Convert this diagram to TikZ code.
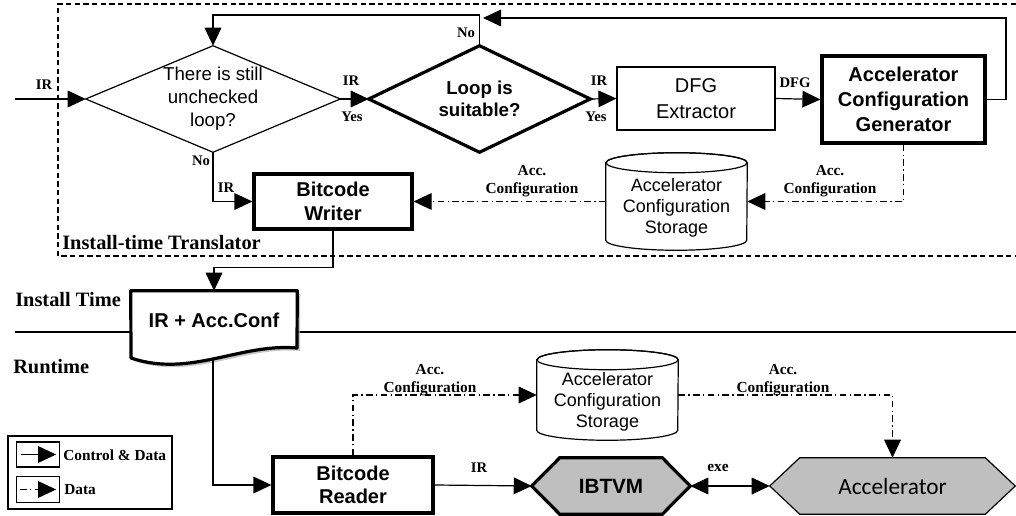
\documentclass[tikz,border=0pt]{standalone}
\usepackage{fontspec}
\setmainfont{Liberation Serif}
\newfontfamily\sansf{Liberation Sans}
\newfontfamily\calf{Carlito}
\usetikzlibrary{arrows.meta,calc,backgrounds}

\begin{document}
\begin{tikzpicture}[x=0.75pt,y=-0.75pt,
  thinline/.style={line width=0.9pt},
  thickline/.style={line width=2.4pt},
  tip/.style={Triangle[length=13.5pt,width=12.5pt]},
  flow/.style={line width=0.9pt,-{Triangle[length=13.5pt,width=12.5pt]}},
  dataflow/.style={flow,dash pattern=on 5pt off 2.5pt on 1pt off 2.5pt},
  area/.style 2 args={minimum width={(#1)*0.75pt},minimum height={(#2)*0.75pt},inner sep=0pt,align=center},
  lbl/.style={font=\bfseries\fontsize{11}{12}\selectfont,inner sep=0pt,align=center},
  acclbl/.style={font=\bfseries\fontsize{11.5}{13}\selectfont,inner sep=0pt,align=center},
  title/.style={font=\bfseries\fontsize{15.3}{17}\selectfont,inner sep=0pt,anchor=west},
  plainbox/.style={draw,thinline,fill=white},
  boldbox/.style={draw,thickline,fill=white},
  hexfill/.style={fill=black!25,draw},
]
\useasboundingbox (0,0) rectangle (1016,516);

% ---------------- nodes ----------------
\node[area={254}{106},font=\sansf\fontsize{14}{17.25}\selectfont] (d1) at (213,99)
  {There is still\\unchecked\\loop?};
\node[area={221}{106},font=\sansf\bfseries\fontsize{14}{16.5}\selectfont] (d2) at (479.5,99)
  {Loop is\\suitable?};
\node[area={158}{63},plainbox,font=\sansf\fontsize{15}{19.5}\selectfont] (dfg) at (696,98.5)
  {DFG\\Extractor};
\node[area={163}{87},boldbox,font=\sansf\bfseries\fontsize{15}{18.75}\selectfont] (acg) at (903.5,99.5)
  {Accelerator\\Configuration\\Generator};
\node[area={158}{55},boldbox,font=\sansf\bfseries\fontsize{15}{17.5}\selectfont] (bw) at (333,201.5)
  {Bitcode\\Writer};
\node[area={141}{97}] (st1) at (676.5,201.5) {};
\node[area={166}{58},font=\sansf\bfseries\fontsize{15}{18}\selectfont] (doc) at (214,320)
  {IR + Acc.Conf};
\coordinate (docbot) at (213,359);
\node[area={160}{56},boldbox,font=\sansf\bfseries\fontsize{15}{17.5}\selectfont] (br) at (353,485)
  {Bitcode\\Reader};
\node[area={141}{90}] (st2) at (607.5,395) {};
\node[area={158}{56},font=\sansf\bfseries\fontsize{15.5}{18}\selectfont] (ib) at (611,486) {IBTVM};
\node[area={245}{56},font=\calf\fontsize{17.5}{20}\selectfont] (acc) at (892.5,486) {Accelerator};

% cylinder captions
\node[area={130}{60},font=\sansf\fontsize{13.5}{15.5}\selectfont] (st1t) at (676.5,208)
  {Accelerator\\Configuration\\Storage};
\node[area={130}{60},font=\sansf\fontsize{13.5}{15.5}\selectfont] (st2t) at (607.5,402)
  {Accelerator\\Configuration\\Storage};

% ---------------- background shapes ----------------
\begin{scope}[on background layer]
  % translator frame
  \draw[thinline,dash pattern=on 4pt off 2.5pt] (1016,4) -- (58,4) -- (58,256) -- (1016,256);
  % install time / runtime separator
  \draw[line width=1.6pt] (15,332) -- (1016,332);
  % decisions
  \draw[thinline,fill=white] (d1.west) -- (d1.north) -- (d1.east) -- (d1.south) -- cycle;
  \draw[thickline,fill=white,line join=miter] (d2.west) -- (d2.north) -- (d2.east) -- (d2.south) -- cycle;
  % storage cylinders
  \foreach \c in {st1,st2}{
    \draw[thinline,fill=white]
      ($(\c.north west)+(0,10)$) -- ($(\c.south west)+(0,-10)$)
      arc[start angle=180,end angle=360,x radius=52.875pt,y radius=7.5pt]
      -- ($(\c.north east)+(0,10)$)
      arc[start angle=0,end angle=180,x radius=52.875pt,y radius=7.5pt] -- cycle;
    \draw[thinline] ($(\c.north)+(0,10)$) ellipse[x radius=52.875pt,y radius=7.5pt];
  }
  % document with shadow
  \fill[black!30,opacity=0.7] ($(doc.north west)+(3,3)$) -- ($(doc.north east)+(3,3)$)
    -- (300,351) .. controls (243,346) and (193,381) .. (134,361) -- cycle;
  \draw[thickline,fill=white,line join=round] (doc.north west) -- (doc.north east)
    -- (297,348) .. controls (240,343) and (190,378) .. (131,358) -- cycle;
  % IBTVM and accelerator
  \draw[thickline,hexfill] (ib.west) -- ($(ib.north west)+(28,0)$) -- ($(ib.north east)+(-28,0)$)
    -- (ib.east) -- ($(ib.south east)+(-28,0)$) -- ($(ib.south west)+(28,0)$) -- cycle;
  \draw[thinline,hexfill] (acc.west) -- ($(acc.north west)+(30,0)$) -- ($(acc.north east)+(-30,0)$)
    -- (acc.east) -- ($(acc.south east)+(-30,0)$) -- ($(acc.south west)+(30,0)$) -- cycle;
\end{scope}

% ---------------- connectors ----------------
\coordinate (irin) at (15,99);
\coordinate (top) at (213,15);
\coordinate (ret) at (483,18);
\coordinate (retup) at (1006,18);
\draw[flow] (irin) -- (d1.west);
\draw[flow] (d1.east) -- (d2.west);
\draw[flow] (d2.east) -- (dfg.west);
\draw[flow] (dfg.east) -- (acg.west);
\draw[flow] (acg.east) -| (retup) -- (ret);
\draw[flow] (d2.north) |- (top) -- (d1.north);
\draw[flow] (d1.south) |- (bw.west);
\draw[dataflow] (acg.south) |- (st1.east);
\draw[dataflow] (st1.west) -- (bw.east);
\draw[flow] (bw.south) -- ++(0,37) -| (doc.north);
\draw[flow] (docbot) |- (br.west);
\draw[dataflow] (br.north) |- (st2.west);
\draw[dataflow] (st2.east) -| (acc.north);
\draw[flow] (br.east) -- (ib.west);
\draw[line width=0.9pt,{Triangle[length=13.5pt,width=12.5pt]}-{Triangle[length=13.5pt,width=12.5pt]}] (ib.east) -- (acc.west);

% ---------------- labels ----------------
\node[lbl] (lir0) at (44,85) {IR};
\node[lbl] (lir1) at (351,81) {IR};
\node[lbl] (lyes1) at (352,117) {Yes};
\node[lbl] (lir2) at (599,81) {IR};
\node[lbl] (lyes2) at (596,117) {Yes};
\node[lbl] (lno2) at (466,33) {No};
\node[lbl] (lno1) at (201,161) {No};
\node[lbl] (lir3) at (226,188) {IR};
\node[lbl] (ldfg) at (795,83) {DFG};
\node[acclbl] (lacc1) at (830,181) {Acc.\\Configuration};
\node[acclbl] (lacc2) at (532,181) {Acc.\\Configuration};
\node[acclbl] (lacc3) at (430,380) {Acc.\\Configuration};
\node[acclbl] (lacc4) at (783,380) {Acc.\\Configuration};
\node[lbl] (lir4) at (479,468) {IR};
\node[acclbl] (lexe) at (718,468) {exe};
\node[title] (ltr) at (62,243) {Install-time Translator};
\node[title] (linst) at (15,300) {Install Time};
\node[title] (lrun) at (13,367) {Runtime};

% ---------------- legend ----------------
\node[area={164}{73},draw,thinline] (leg) at (90,472.5) {};
\node[area={43}{25},draw,thinline] (lg1) at (38,454.5) {};
\node[area={43}{26},draw,thinline] (lg2) at (38,489.5) {};
\draw[flow] ([xshift=3.5pt]lg1.west) -- ([xshift=-3pt]lg1.east);
\draw[dataflow] ([xshift=3pt]lg2.west) -- ([xshift=-3pt]lg2.east);
\node[acclbl,anchor=west] (lcd) at (63,455) {Control \& Data};
\node[acclbl,anchor=west] (ld) at (64,490) {Data};
\end{tikzpicture}
\end{document}
